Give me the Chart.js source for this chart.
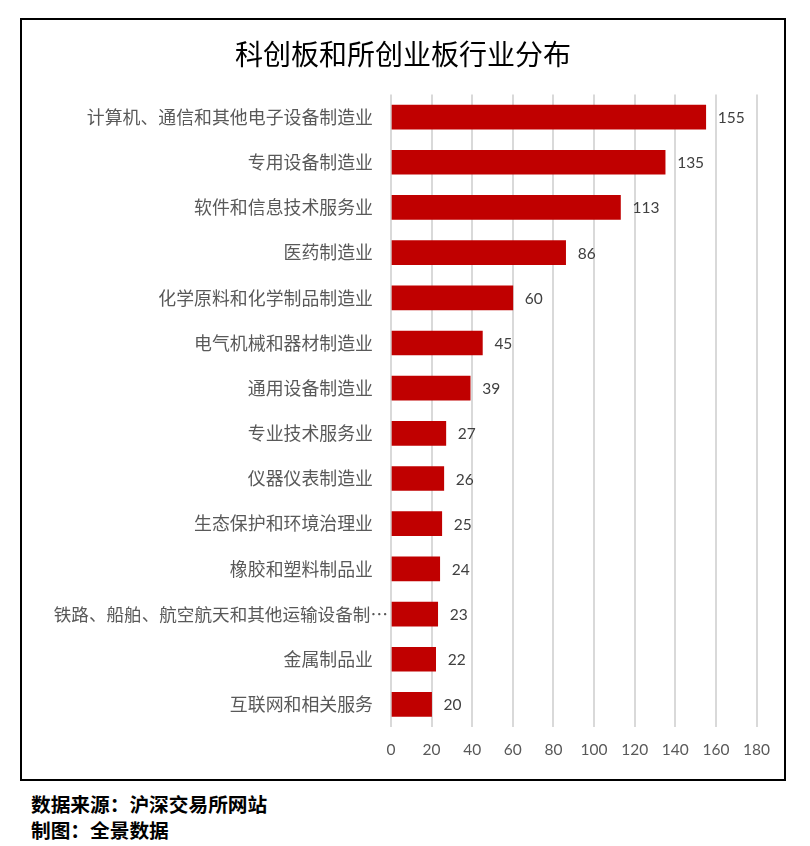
<!DOCTYPE html>
<html>
<head>
<meta charset="utf-8">
<script src="https://cdn.jsdelivr.net/npm/chart.js@4"></script>
<style>
  html, body { margin: 0; padding: 0; background: #fff; }
  body { width: 810px; height: 846px; position: relative; overflow: hidden; }
  #frame { position: absolute; left: 20px; top: 18px; width: 762px; height: 759px; border: 2px solid #000; }
  #c { position: absolute; left: 0; top: 0; }
  .foot { position: absolute; left: 31px; font-family: "Noto Sans CJK SC", sans-serif; font-weight: bold; font-size: 19.7px; color: #000; line-height: 1; }
</style>
</head>
<body>
<div id="frame"><canvas id="c" width="762" height="759"></canvas></div>
<div class="foot" style="top:794px">数据来源：沪深交易所网站</div>
<div class="foot" style="top:820px">制图：全景数据</div>
<script>
const titleText = "科创板和所创业板行业分布";
const categories = [
  "计算机、通信和其他电子设备制造业",
  "专用设备制造业",
  "软件和信息技术服务业",
  "医药制造业",
  "化学原料和化学制品制造业",
  "电气机械和器材制造业",
  "通用设备制造业",
  "专业技术服务业",
  "仪器仪表制造业",
  "生态保护和环境治理业",
  "橡胶和塑料制品业",
  "铁路、船舶、航空航天和其他运输设备制造业",
  "金属制品业",
  "互联网和相关服务"
];
const values = [155, 135, 113, 86, 60, 45, 39, 27, 26, 25, 24, 23, 22, 20];
const xTicks = [0, 20, 40, 60, 80, 100, 120, 140, 160, 180];

const CJK = '"Noto Sans CJK SC", sans-serif';
const NUM = 'Lato, "Noto Sans CJK SC", sans-serif';

const decor = {
  id: 'decor',
  afterDraw(chart) {
    const ctx = chart.ctx;
    const area = chart.chartArea;
    ctx.save();
    // title centred on the whole canvas
    ctx.font = '28px ' + CJK;
    ctx.fillStyle = '#000';
    ctx.textAlign = 'center';
    ctx.textBaseline = 'middle';
    ctx.fillText(titleText, chart.width / 2, 34);
    // category labels
    const yScale = chart.scales.y;
    ctx.textAlign = 'right';
    ctx.fillStyle = '#595959';
    categories.forEach((s, i) => {
      const y = yScale.getPixelForTick(i);
      if (s.length > 19) {
        ctx.font = '17.6px ' + CJK;
        ctx.fillText(s.slice(0, 18) + '…', area.left - 3, y);
      } else {
        ctx.font = '17.9px ' + CJK;
        ctx.fillText(s, area.left - 18, y);
      }
    });
    // value labels
    const meta = chart.getDatasetMeta(0);
    ctx.font = '15.5px ' + NUM;
    ctx.fillStyle = '#404040';
    ctx.textAlign = 'left';
    meta.data.forEach((bar, i) => {
      ctx.fillText(String(values[i]), bar.x + 12, bar.y + 1);
    });
    ctx.restore();
  }
};

new Chart(document.getElementById('c'), {
  type: 'bar',
  data: {
    labels: categories,
    datasets: [{
      data: values,
      backgroundColor: '#c00000',
      borderWidth: 0,
      barThickness: 24
    }]
  },
  options: {
    indexAxis: 'y',
    responsive: false,
    animation: false,
    events: [],
    layout: { padding: { left: 0, right: 22, top: 74.5, bottom: 0 } },
    plugins: {
      legend: { display: false },
      tooltip: { enabled: false },
      title: { display: false }
    },
    scales: {
      x: {
        type: 'linear',
        min: 0,
        max: 180,
        afterBuildTicks(axis) { axis.ticks = xTicks.map(v => ({ value: v })); },
        afterFit(axis) { axis.height = 52; },
        border: { display: false },
        grid: { color: '#d9d9d9', lineWidth: 2, drawTicks: false },
        ticks: { color: '#595959', font: { family: NUM, size: 15.5 }, padding: 14, maxRotation: 0 }
      },
      y: {
        afterFit(axis) { axis.width = 369; },
        border: { display: false },
        grid: { display: false, drawTicks: false },
        ticks: { display: false }
      }
    }
  },
  plugins: [decor]
});
</script>
</body>
</html>
